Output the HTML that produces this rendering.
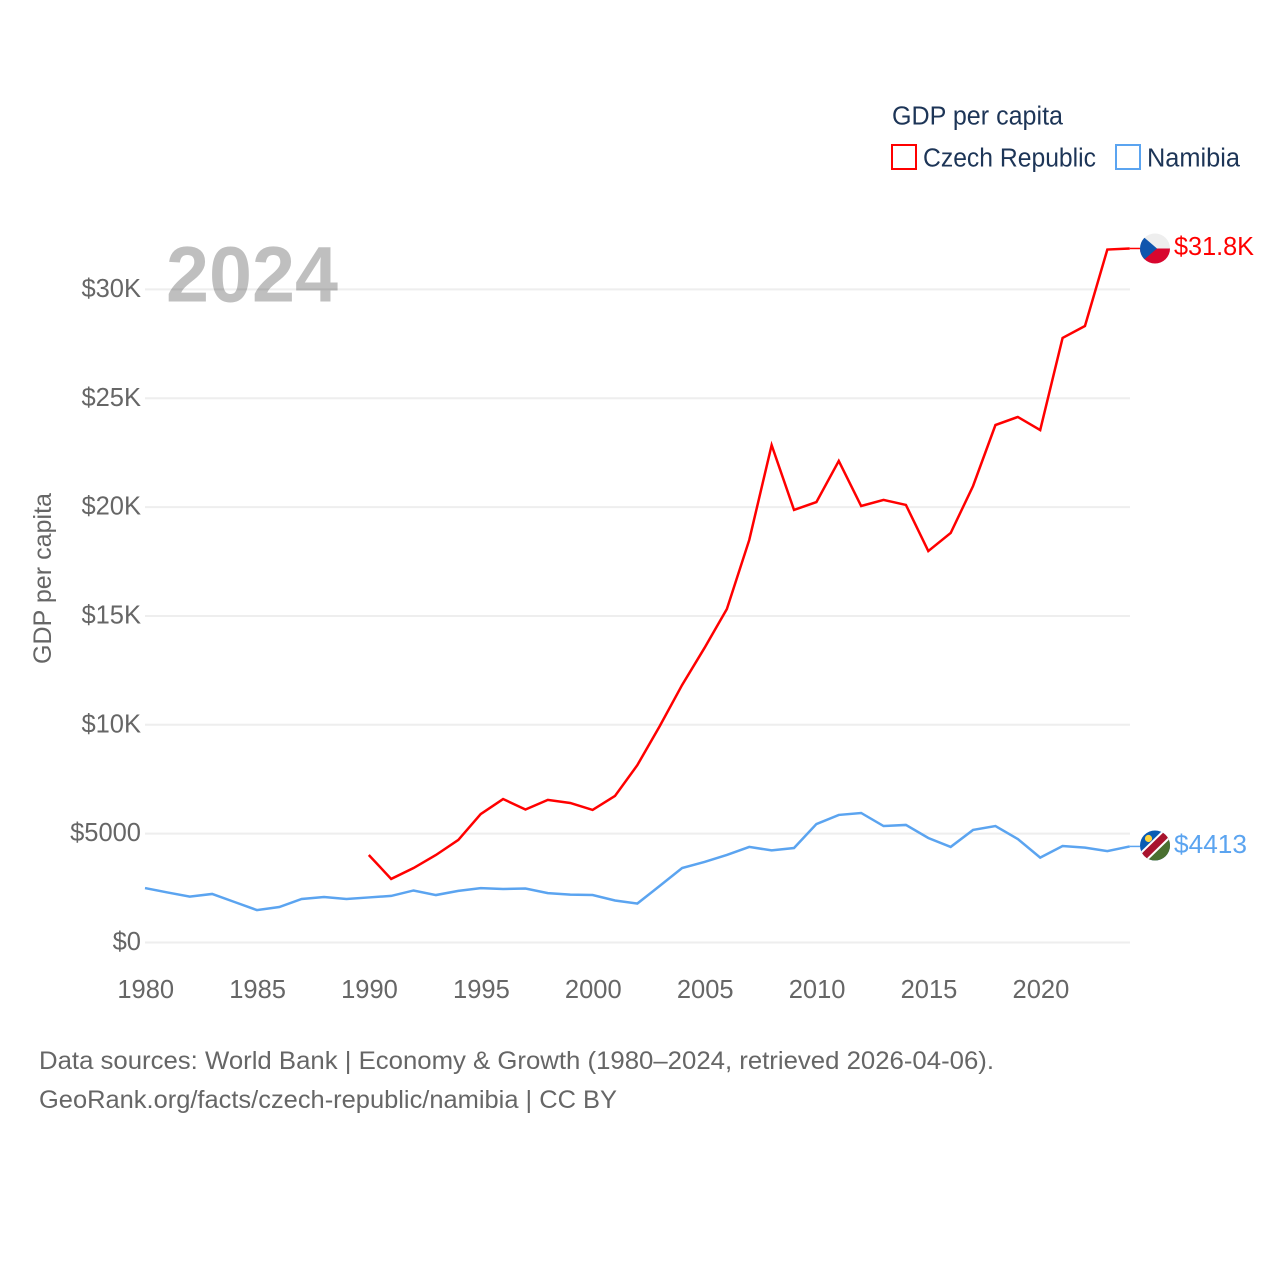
<!DOCTYPE html>
<html>
<head>
<meta charset="utf-8">
<title>GDP per capita: Czech Republic and Namibia</title>
<style>
html,body{margin:0;padding:0;background:#fff;width:1280px;height:1280px;overflow:hidden}
svg{display:block}
text{font-family:"Liberation Sans",Arial,sans-serif}
</style>
</head>
<body>
<svg id="chart" xmlns="http://www.w3.org/2000/svg" width="1280" height="1280" viewBox="0 0 1280 1280">
  <defs>
    <clipPath id="czClip"><circle cx="1155" cy="248.5" r="15"/></clipPath>
    <clipPath id="naClip"><circle cx="1155" cy="845.5" r="15"/></clipPath>
  </defs>
  <g id="grid"></g>
  <g id="yticks"></g>
  <g id="xticks"></g>
  <g id="series"></g>

  <text x="166" y="301.5" font-size="79" font-weight="700" fill="#000" fill-opacity="0.25" textLength="172" lengthAdjust="spacingAndGlyphs">2024</text>

  <text transform="translate(51,664) rotate(-90)" font-size="25" fill="#666" textLength="171" lengthAdjust="spacingAndGlyphs">GDP per capita</text>

  <g>
    <text x="892" y="124.5" font-size="25.5" fill="#1d3557" textLength="171" lengthAdjust="spacingAndGlyphs">GDP per capita</text>
    <rect x="892" y="145" width="24" height="24" fill="#fff" stroke="#ff0000" stroke-width="2"/>
    <text x="923" y="166.5" font-size="25.5" fill="#1d3557" textLength="173" lengthAdjust="spacingAndGlyphs">Czech Republic</text>
    <rect x="1116" y="145" width="24" height="24" fill="#fff" stroke="#5ba4f0" stroke-width="2"/>
    <text x="1147" y="166.5" font-size="25.5" fill="#1d3557" textLength="93" lengthAdjust="spacingAndGlyphs">Namibia</text>
  </g>

  <g clip-path="url(#czClip)">
    <rect x="1140" y="233" width="30" height="31" fill="#eeeeee"/>
    <rect x="1140" y="248.5" width="30" height="16" fill="#d8062e"/>
    <polygon points="1139,233 1139,264 1157,248.5" fill="#0f55ad"/>
  </g>
  <g clip-path="url(#naClip)">
    <rect x="1140" y="830" width="30" height="31" fill="#0a5cb4"/>
    <polygon points="1140,861 1171,861 1171,830" fill="#4a7030"/>
    <line x1="1136" y1="864" x2="1174" y2="827" stroke="#fff" stroke-width="11"/>
    <line x1="1136" y1="864" x2="1174" y2="827" stroke="#a8142e" stroke-width="7"/>
    <circle cx="1148.5" cy="838.5" r="3.6" fill="#ffd53d"/>
  </g>

  <text x="1174" y="255" font-size="25.5" fill="#ff0000" textLength="80" lengthAdjust="spacingAndGlyphs">$31.8K</text>
  <text x="1174" y="853" font-size="25.5" fill="#5ba4f0" textLength="73" lengthAdjust="spacingAndGlyphs">$4413</text>

  <text x="39" y="1069" font-size="25" fill="#666" textLength="955" lengthAdjust="spacingAndGlyphs">Data sources: World Bank | Economy &amp; Growth (1980–2024, retrieved 2026-04-06).</text>
  <text x="39" y="1108" font-size="25" fill="#666" textLength="578" lengthAdjust="spacingAndGlyphs">GeoRank.org/facts/czech-republic/namibia | CC BY</text>
</svg>
<script>
const yTickValues = [0, 5, 10, 15, 20, 25, 30];
const yTickLabels = ["$0", "$5000", "$10K", "$15K", "$20K", "$25K", "$30K"];
const xTickYears = [1980, 1985, 1990, 1995, 2000, 2005, 2010, 2015, 2020];
const czechYears = [1990,1991,1992,1993,1994,1995,1996,1997,1998,1999,2000,2001,2002,2003,2004,2005,2006,2007,2008,2009,2010,2011,2012,2013,2014,2015,2016,2017,2018,2019,2020,2021,2022,2023,2024];
const czechValues = [4.02,2.92,3.42,4.02,4.71,5.90,6.59,6.11,6.55,6.41,6.09,6.73,8.15,9.94,11.83,13.53,15.32,18.49,22.85,19.87,20.23,22.12,20.05,20.33,20.10,17.98,18.81,20.97,23.77,24.14,23.54,27.77,28.32,31.83,31.88];
const namibiaYears = [1980,1981,1982,1983,1984,1985,1986,1987,1988,1989,1990,1991,1992,1993,1994,1995,1996,1997,1998,1999,2000,2001,2002,2003,2004,2005,2006,2007,2008,2009,2010,2011,2012,2013,2014,2015,2016,2017,2018,2019,2020,2021,2022,2023,2024];
const namibiaValues = [2.50,2.30,2.11,2.23,1.86,1.49,1.63,2.00,2.09,2.00,2.07,2.14,2.39,2.18,2.37,2.50,2.46,2.48,2.27,2.20,2.18,1.93,1.79,2.60,3.42,3.70,4.02,4.39,4.23,4.34,5.44,5.86,5.95,5.35,5.40,4.80,4.39,5.17,5.35,4.75,3.90,4.43,4.36,4.20,4.413];

const NS = "http://www.w3.org/2000/svg";
function xScale(year) { return 145 + (year - 1980) * 22.38; }
function yScale(v) { return 942.5 - v * 21.77; }
function pathFor(years, values) {
  return values.map(function (v, i) {
    return (i ? "L" : "M") + xScale(years[i]).toFixed(2) + " " + yScale(v).toFixed(2);
  }).join(" ");
}

const gridG = document.getElementById("grid");
const yG = document.getElementById("yticks");
const xG = document.getElementById("xticks");
const seriesG = document.getElementById("series");

yTickValues.forEach(function (v, i) {
  const line = document.createElementNS(NS, "line");
  
  
  line.setAttribute("x1", 145);
  line.setAttribute("x2", 1130);
  line.setAttribute("y1", yScale(v));
  line.setAttribute("y2", yScale(v));
  line.setAttribute("stroke", "#eeeeee");
  line.setAttribute("stroke-width", "2");
  gridG.appendChild(line);

  const t = document.createElementNS(NS, "text");
  
  
  t.setAttribute("x", 141);
  t.setAttribute("y", yScale(v) + 7.5);
  t.setAttribute("text-anchor", "end");
  t.setAttribute("font-size", "25.5");
  t.setAttribute("fill", "#666");
  t.textContent = yTickLabels[i];
  yG.appendChild(t);
});

xTickYears.forEach(function (year) {
  const t = document.createElementNS(NS, "text");
  
  
  t.setAttribute("x", xScale(year) + 0.7);
  t.setAttribute("y", 998);
  t.setAttribute("text-anchor", "middle");
  t.setAttribute("font-size", "25.5");
  t.setAttribute("fill", "#666");
  t.textContent = String(year);
  xG.appendChild(t);
});

const namibiaLine = document.createElementNS(NS, "path");


namibiaLine.setAttribute("d", pathFor(namibiaYears, namibiaValues));
namibiaLine.setAttribute("fill", "none");
namibiaLine.setAttribute("stroke", "#5ba4f0");
namibiaLine.setAttribute("stroke-width", "2.5");
seriesG.appendChild(namibiaLine);

const czechLine = document.createElementNS(NS, "path");


czechLine.setAttribute("d", pathFor(czechYears, czechValues));
czechLine.setAttribute("fill", "none");
czechLine.setAttribute("stroke", "#ff0000");
czechLine.setAttribute("stroke-width", "2.5");
seriesG.appendChild(czechLine);

const czechLeader = document.createElementNS(NS, "line");


czechLeader.setAttribute("x1", xScale(2024));
czechLeader.setAttribute("x2", 1140);
czechLeader.setAttribute("y1", yScale(czechValues[czechValues.length - 1]));
czechLeader.setAttribute("y2", yScale(czechValues[czechValues.length - 1]));
czechLeader.setAttribute("stroke", "#ff0000");
czechLeader.setAttribute("stroke-width", "1.5");
seriesG.appendChild(czechLeader);

const namibiaLeader = document.createElementNS(NS, "line");


namibiaLeader.setAttribute("x1", xScale(2024));
namibiaLeader.setAttribute("x2", 1140);
namibiaLeader.setAttribute("y1", yScale(namibiaValues[namibiaValues.length - 1]));
namibiaLeader.setAttribute("y2", yScale(namibiaValues[namibiaValues.length - 1]));
namibiaLeader.setAttribute("stroke", "#5ba4f0");
namibiaLeader.setAttribute("stroke-width", "1.5");
seriesG.appendChild(namibiaLeader);
</script>
</body>
</html>
